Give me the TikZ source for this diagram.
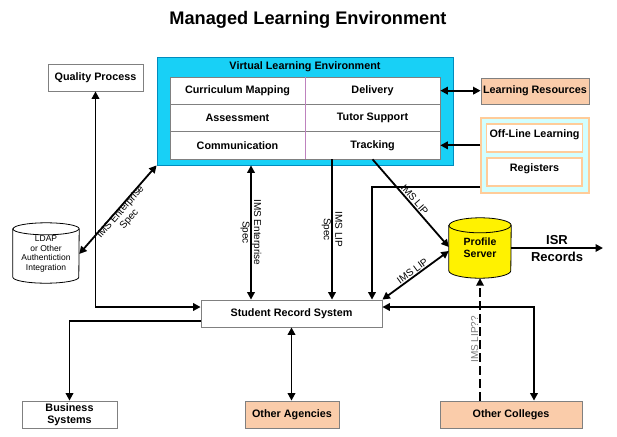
\documentclass[tikz,border=0pt]{standalone}
\usepackage{fontspec}
\setmainfont{Liberation Sans}
\usetikzlibrary{arrows.meta,backgrounds,calc}
\definecolor{vlecyan}{RGB}{24,208,246}
\definecolor{vleedge}{RGB}{0,140,190}
\definecolor{peach}{RGB}{250,204,170}
\definecolor{peachedge}{RGB}{255,204,153}
\definecolor{lightcyan}{RGB}{210,255,255}
\definecolor{boxedge}{RGB}{128,128,128}
\definecolor{divider}{RGB}{190,130,190}
\definecolor{lblgray}{RGB}{120,120,120}
\begin{document}
\begin{tikzpicture}[x=1pt,y=-1pt,
  every node/.style={inner sep=2pt},
  boxfont/.style={font=\bfseries\fontsize{10.8}{12}\selectfont},
  plainbox/.style={draw=boxedge, line width=0.8pt, fill=white, boxfont, align=center},
  peachbox/.style={plainbox, fill=peach},
  cell/.style={draw=boxedge, line width=0.6pt, fill=white, minimum width=135pt, minimum height=27.33pt, boxfont},
  offbox/.style={draw=peachedge, line width=1.6pt, fill=white, minimum width=95pt, minimum height=28pt, inner sep=3pt, text height=10pt, text depth=12pt, boxfont},
  conn/.style={line width=1.8pt, -{Triangle[length=7.5pt,width=7.5pt]}},
  conn2/.style={line width=1.8pt, {Triangle[length=7.5pt,width=7.5pt]}-{Triangle[length=7.5pt,width=7.5pt]}},
  lbl/.style={font=\fontsize{10}{11.5}\selectfont, align=center, inner sep=1pt},
  cylbox/.style={minimum width=62pt, minimum height=60pt, align=center},
]
\useasboundingbox (0,0) rectangle (617,436);

\node[font=\bfseries\fontsize{18.2}{21}\selectfont] (title) at (308,20) {Managed Learning Environment};

% Quality process
\node[plainbox, minimum width=95pt, minimum height=27pt] (qp) at (95.5,77.5) {Quality Process};

% VLE
\node[draw=vleedge, line width=0.8pt, fill=vlecyan, minimum width=296pt, minimum height=108pt] (vle) at (305,111) {};
\node[boxfont] (vlet) at (305,66.5) {Virtual Learning Environment};
\node[cell] (cm)  at (237.5,90.67)  {Curriculum Mapping};
\node[cell] (del) at (372.5,90.67)  {Delivery};
\node[cell] (asm) at (237.5,118)    {Assessment};
\node[cell] (ts)  at (372.5,118)    {Tutor Support};
\node[cell] (com) at (237.5,145.33) {Communication};
\node[cell] (tr)  at (372.5,145.33) {Tracking};
\draw[divider, line width=0.7pt] (cm.north east) -- (com.south east);

% Learning resources
\node[peachbox, minimum width=108pt, minimum height=26pt] (lr) at (535,91) {Learning Resources};

% Off-line group
\node[draw=peachedge, line width=1.2pt, fill=lightcyan, minimum width=108pt, minimum height=75pt] (og) at (535,155.5) {};
\node[offbox] (oll) at (534.5,138) {Off-Line Learning};
\node[offbox] (reg) at (534.5,172) {Registers};

% Student record system
\node[plainbox, minimum width=181pt, minimum height=27pt] (srs) at (291.5,313.5) {Student Record System};

% bottom boxes
\node[plainbox, minimum width=95pt, minimum height=27pt, font=\bfseries\fontsize{10.8}{12}\selectfont] (bs) at (69.5,414.5) {Business\\Systems};
\node[peachbox, minimum width=94pt, minimum height=27pt] (oa) at (292,414.5) {Other Agencies};
\node[peachbox, minimum width=142pt, minimum height=27pt] (oc) at (511,414.5) {Other Colleges};

% cylinders
\node[cylbox, font=\bfseries\fontsize{10.5}{12}\selectfont] (ps) at (480,248) {Profile\\Server};
\node[cylbox, minimum width=66pt, font=\fontsize{8.5}{9.5}\selectfont] (ldap) at (46,254) {LDAP\\or Other\\Authentiction\\Integration};
\begin{pgfonlayer}{background}
\draw[line width=0.8pt, fill=yellow] ([yshift=-7.5pt]ps.north west) -- ([yshift=7.5pt]ps.south west)
  arc[start angle=180,end angle=360,x radius=31pt,y radius=7.5pt] -- ([yshift=-7.5pt]ps.north east)
  arc[start angle=0,end angle=180,x radius=31pt,y radius=7.5pt] -- cycle;
\draw[line width=0.8pt] ([yshift=-7.5pt]ps.north west) arc[start angle=180,end angle=360,x radius=31pt,y radius=7.5pt];
\draw[line width=0.8pt, fill=white] ([yshift=-5pt]ldap.north west) -- ([yshift=7pt]ldap.south west)
  arc[start angle=180,end angle=360,x radius=33pt,y radius=6pt] -- ([yshift=-5pt]ldap.north east)
  arc[start angle=0,end angle=180,x radius=33pt,y radius=6pt] -- cycle;
\draw[line width=0.8pt] ([yshift=-5pt]ldap.north west) arc[start angle=180,end angle=360,x radius=33pt,y radius=6pt];
\end{pgfonlayer}

% connectors
\draw[conn2] (del.east) -- (del.east -| lr.west);
\draw[conn] (og.west |- tr.east) -- (tr.east);
\draw[conn] ([yshift=7pt]og.south west) -| ([xshift=80.5pt]srs.north);
\draw[conn2] ([xshift=-54pt]vle.south) -- ([xshift=-40.5pt]srs.north)
  node[midway, rotate=-90, lbl] (lbl1) {IMS Enterprise\\Spec};
\draw[conn] ([xshift=-40.5pt]tr.south) -- ([xshift=40.5pt]srs.north)
  node[midway, rotate=-90, lbl] (lbl2) {IMS LIP\\Spec};
\draw[conn] (tr.south) -- ([yshift=1pt]ps.west)
  node[midway, sloped, above, lbl] (lbl3) {IMS LIP};
\draw[conn2] (srs.north east) -- ([yshift=-3pt]ps.west)
  node[midway, sloped, above, lbl] (lbl4) {IMS LIP};
\draw[conn, dash pattern=on 9pt off 4pt] ([xshift=-31pt]oc.north) -- (ps.south)
  node[midway, rotate=90, anchor=south, lbl, text=lblgray] (lbl5) {IMS LIP??};
\coordinate (isrend) at (603,248);
\draw[conn] (ps.east) -- (isrend);
\node[font=\bfseries\fontsize{13}{17}\selectfont, align=center, inner sep=0pt] (isr) at (557,248.5) {ISR\\Records};
\draw[conn2] ([yshift=6.5pt]srs.east) -| ([xshift=23pt]oc.north);
\draw[conn2] (srs.south) -- (srs.south |- oa.north);
\draw[conn] ([yshift=-7.5pt]srs.west) -| (bs.north);
\draw[conn2] (qp.south) |- ([yshift=6.5pt]srs.west);
\draw[conn2] (ldap.east) -- (vle.south west)
  node[midway, sloped, anchor=north, lbl, outer sep=-2pt] (lbl0) {IMS Enterprise\\Spec};
\end{tikzpicture}
\end{document}
